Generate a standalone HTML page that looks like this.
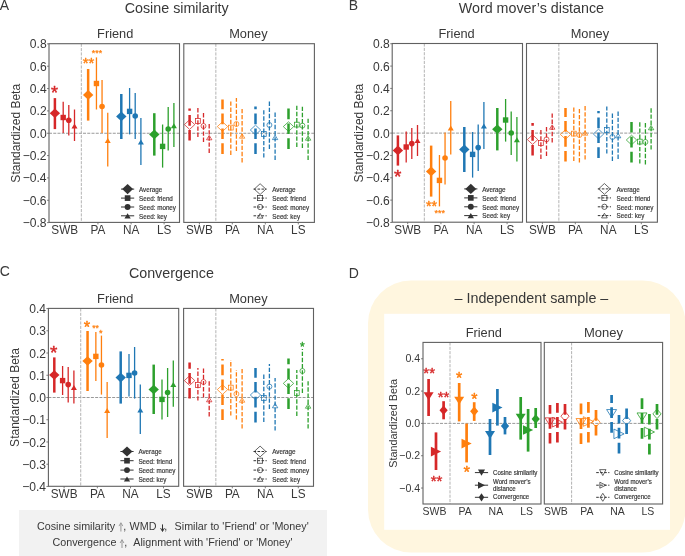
<!DOCTYPE html>
<html><head><meta charset="utf-8"><style>
html,body{margin:0;padding:0;background:#fff;width:685px;height:556px;overflow:hidden;position:relative}
</style></head><body>
<svg width="685" height="556" viewBox="0 0 685 556" style="position:absolute;left:0;top:0;will-change:transform;font-family:'Liberation Sans',sans-serif">
<rect width="685" height="556" fill="#fff"/>
<text transform="translate(-0.3,9.9) scale(1,1.04)" font-size="14" text-anchor="start" fill="#383838" >A</text>
<text transform="translate(348.7,9.85) scale(1,1.04)" font-size="14" text-anchor="start" fill="#383838" >B</text>
<text transform="translate(-0.3,275.6) scale(1,1.04)" font-size="14" text-anchor="start" fill="#383838" >C</text>
<text transform="translate(348.8,277.8) scale(1,1.04)" font-size="14" text-anchor="start" fill="#383838" >D</text>
<text transform="translate(176.7,13.3) scale(1,1.04)" font-size="14.3" text-anchor="middle" fill="#383838" >Cosine similarity</text>
<text transform="translate(115.2,37.6) scale(1,1.04)" font-size="12.8" text-anchor="middle" fill="#383838" >Friend</text>
<text transform="translate(248.4,37.6) scale(1,1.04)" font-size="12.8" text-anchor="middle" fill="#383838" >Money</text>
<text x="0" y="0" font-size="12" text-anchor="middle" fill="#383838" transform="translate(19.8,133.25) rotate(-90)">Standardized Beta</text>
<text transform="translate(46.6,48.44) scale(1,1.04)" font-size="12.1" text-anchor="end" fill="#383838" >0.8</text>
<line x1="47" y1="43.89" x2="49" y2="43.89" stroke="#606060" stroke-width="0.8" />
<text transform="translate(46.6,70.78) scale(1,1.04)" font-size="12.1" text-anchor="end" fill="#383838" >0.6</text>
<line x1="47" y1="66.23" x2="49" y2="66.23" stroke="#606060" stroke-width="0.8" />
<text transform="translate(46.6,93.12) scale(1,1.04)" font-size="12.1" text-anchor="end" fill="#383838" >0.4</text>
<line x1="47" y1="88.57" x2="49" y2="88.57" stroke="#606060" stroke-width="0.8" />
<text transform="translate(46.6,115.46) scale(1,1.04)" font-size="12.1" text-anchor="end" fill="#383838" >0.2</text>
<line x1="47" y1="110.91" x2="49" y2="110.91" stroke="#606060" stroke-width="0.8" />
<text transform="translate(46.6,137.8) scale(1,1.04)" font-size="12.1" text-anchor="end" fill="#383838" >0.0</text>
<line x1="47" y1="133.25" x2="49" y2="133.25" stroke="#606060" stroke-width="0.8" />
<text transform="translate(46.6,160.14) scale(1,1.04)" font-size="12.1" text-anchor="end" fill="#383838" >−0.2</text>
<line x1="47" y1="155.59" x2="49" y2="155.59" stroke="#606060" stroke-width="0.8" />
<text transform="translate(46.6,182.48) scale(1,1.04)" font-size="12.1" text-anchor="end" fill="#383838" >−0.4</text>
<line x1="47" y1="177.93" x2="49" y2="177.93" stroke="#606060" stroke-width="0.8" />
<text transform="translate(46.6,204.82) scale(1,1.04)" font-size="12.1" text-anchor="end" fill="#383838" >−0.6</text>
<line x1="47" y1="200.27" x2="49" y2="200.27" stroke="#606060" stroke-width="0.8" />
<text transform="translate(46.6,227.16) scale(1,1.04)" font-size="12.1" text-anchor="end" fill="#383838" >−0.8</text>
<line x1="47" y1="222.61" x2="49" y2="222.61" stroke="#606060" stroke-width="0.8" />
<line x1="49" y1="133.25" x2="179.5" y2="133.25" stroke="#999999" stroke-width="1" stroke-dasharray="3.0 1.25" />
<line x1="81.33" y1="43.7" x2="81.33" y2="222.4" stroke="#aaaaaa" stroke-width="0.9" stroke-dasharray="3.1 1.25" />
<text transform="translate(64.7,233.7) scale(1,1.04)" font-size="11.8" text-anchor="middle" fill="#383838" >SWB</text>
<line x1="64.7" y1="222.4" x2="64.7" y2="224.4" stroke="#606060" stroke-width="0.8" />
<text transform="translate(97.95,233.7) scale(1,1.04)" font-size="11.8" text-anchor="middle" fill="#383838" >PA</text>
<line x1="97.95" y1="222.4" x2="97.95" y2="224.4" stroke="#606060" stroke-width="0.8" />
<text transform="translate(131.1,233.7) scale(1,1.04)" font-size="11.8" text-anchor="middle" fill="#383838" >NA</text>
<line x1="131.1" y1="222.4" x2="131.1" y2="224.4" stroke="#606060" stroke-width="0.8" />
<text transform="translate(164.1,233.7) scale(1,1.04)" font-size="11.8" text-anchor="middle" fill="#383838" >LS</text>
<line x1="164.1" y1="222.4" x2="164.1" y2="224.4" stroke="#606060" stroke-width="0.8" />
<line x1="183.8" y1="133.25" x2="314.4" y2="133.25" stroke="#999999" stroke-width="1" stroke-dasharray="3.0 1.25" />
<line x1="215.85" y1="43.7" x2="215.85" y2="222.4" stroke="#aaaaaa" stroke-width="0.9" stroke-dasharray="3.1 1.25" />
<text transform="translate(199.4,233.7) scale(1,1.04)" font-size="11.8" text-anchor="middle" fill="#383838" >SWB</text>
<line x1="199.4" y1="222.4" x2="199.4" y2="224.4" stroke="#606060" stroke-width="0.8" />
<text transform="translate(232.3,233.7) scale(1,1.04)" font-size="11.8" text-anchor="middle" fill="#383838" >PA</text>
<line x1="232.3" y1="222.4" x2="232.3" y2="224.4" stroke="#606060" stroke-width="0.8" />
<text transform="translate(265.3,233.7) scale(1,1.04)" font-size="11.8" text-anchor="middle" fill="#383838" >NA</text>
<line x1="265.3" y1="222.4" x2="265.3" y2="224.4" stroke="#606060" stroke-width="0.8" />
<text transform="translate(298.3,233.7) scale(1,1.04)" font-size="11.8" text-anchor="middle" fill="#383838" >LS</text>
<line x1="298.3" y1="222.4" x2="298.3" y2="224.4" stroke="#606060" stroke-width="0.8" />
<path d="M54.9,129.1 L54.9,98.1" stroke="#d62728" stroke-width="2.5" fill="none"/>
<path d="M54.9,108.4 L60.1,113.2 L54.9,118 L49.7,113.2Z" fill="#d62728" stroke="none"/>
<path d="M63.2,133 L63.2,101.7" stroke="#d62728" stroke-width="1.3" fill="none"/>
<rect x="60.5" y="114.8" width="5.4" height="5.4" fill="#d62728" stroke="none"/>
<path d="M68.8,135.6 L68.8,105" stroke="#d62728" stroke-width="1.3" fill="none"/>
<ellipse cx="68.8" cy="120.3" rx="2.8" ry="2.8" fill="#d62728" stroke="none"/>
<path d="M74.5,141 L74.5,109.5" stroke="#d62728" stroke-width="1.3" fill="none"/>
<path d="M74.5,123.5 L77.5,128.5 L71.5,128.5Z" fill="#d62728" stroke="none"/>
<path d="M88.15,120.6 L88.15,69" stroke="#ff7f0e" stroke-width="2.5" fill="none"/>
<path d="M88.15,90.1 L93.35,94.9 L88.15,99.7 L82.95,94.9Z" fill="#ff7f0e" stroke="none"/>
<path d="M96.45,109.5 L96.45,57.4" stroke="#ff7f0e" stroke-width="1.3" fill="none"/>
<rect x="93.75" y="80.8" width="5.4" height="5.4" fill="#ff7f0e" stroke="none"/>
<path d="M102.05,133 L102.05,80" stroke="#ff7f0e" stroke-width="1.3" fill="none"/>
<ellipse cx="102.05" cy="106.5" rx="2.8" ry="2.8" fill="#ff7f0e" stroke="none"/>
<path d="M107.75,166.6 L107.75,112.7" stroke="#ff7f0e" stroke-width="1.3" fill="none"/>
<path d="M107.75,137.9 L110.75,142.9 L104.75,142.9Z" fill="#ff7f0e" stroke="none"/>
<path d="M121.3,139 L121.3,94" stroke="#1f77b4" stroke-width="2.5" fill="none"/>
<path d="M121.3,111.6 L126.5,116.4 L121.3,121.2 L116.1,116.4Z" fill="#1f77b4" stroke="none"/>
<path d="M129.6,134.4 L129.6,88" stroke="#1f77b4" stroke-width="1.3" fill="none"/>
<rect x="126.9" y="108.7" width="5.4" height="5.4" fill="#1f77b4" stroke="none"/>
<path d="M135.2,139 L135.2,93" stroke="#1f77b4" stroke-width="1.3" fill="none"/>
<ellipse cx="135.2" cy="116" rx="2.8" ry="2.8" fill="#1f77b4" stroke="none"/>
<path d="M140.9,165 L140.9,118" stroke="#1f77b4" stroke-width="1.3" fill="none"/>
<path d="M140.9,139.5 L143.9,144.5 L137.9,144.5Z" fill="#1f77b4" stroke="none"/>
<path d="M154.3,155.6 L154.3,113.2" stroke="#2ca02c" stroke-width="2.5" fill="none"/>
<path d="M154.3,129.6 L159.5,134.4 L154.3,139.2 L149.1,134.4Z" fill="#2ca02c" stroke="none"/>
<path d="M162.6,167.6 L162.6,124.5" stroke="#2ca02c" stroke-width="1.3" fill="none"/>
<rect x="159.9" y="143.7" width="5.4" height="5.4" fill="#2ca02c" stroke="none"/>
<path d="M168.2,150.6 L168.2,107" stroke="#2ca02c" stroke-width="1.3" fill="none"/>
<ellipse cx="168.2" cy="129" rx="2.8" ry="2.8" fill="#2ca02c" stroke="none"/>
<path d="M173.9,147 L173.9,103" stroke="#2ca02c" stroke-width="1.3" fill="none"/>
<path d="M173.9,123.3 L176.9,128.3 L170.9,128.3Z" fill="#2ca02c" stroke="none"/>
<path d="M189.6,140.6 L189.6,108.6" stroke="#d62728" stroke-width="2.5" fill="none" stroke-dasharray="10.7 4.2"/>
<path d="M189.6,119.8 L194.8,124.6 L189.6,129.4 L184.4,124.6Z" fill="none" stroke="#d62728" stroke-width="0.75"/>
<path d="M197.9,137 L197.9,107" stroke="#d62728" stroke-width="1.3" fill="none" stroke-dasharray="4.4 1.75"/>
<rect x="195.5" y="118.6" width="4.8" height="4.8" fill="none" stroke="#d62728" stroke-width="0.75"/>
<path d="M203.5,142 L203.5,112" stroke="#d62728" stroke-width="1.3" fill="none" stroke-dasharray="4.4 1.75"/>
<ellipse cx="203.5" cy="126" rx="2.5" ry="2.5" fill="none" stroke="#d62728" stroke-width="0.75"/>
<path d="M209.2,153 L209.2,123" stroke="#d62728" stroke-width="1.3" fill="none" stroke-dasharray="4.4 1.75"/>
<path d="M209.2,135.4 L211.9,139.8 L206.5,139.8Z" fill="none" stroke="#d62728" stroke-width="0.75"/>
<path d="M222.5,154 L222.5,99.6" stroke="#ff7f0e" stroke-width="2.5" fill="none" stroke-dasharray="10.7 4.2"/>
<path d="M222.5,121.8 L227.7,126.6 L222.5,131.4 L217.3,126.6Z" fill="none" stroke="#ff7f0e" stroke-width="0.75"/>
<path d="M230.8,155 L230.8,101" stroke="#ff7f0e" stroke-width="1.3" fill="none" stroke-dasharray="4.4 1.75"/>
<rect x="228.4" y="125.2" width="4.8" height="4.8" fill="none" stroke="#ff7f0e" stroke-width="0.75"/>
<path d="M236.4,151 L236.4,98" stroke="#ff7f0e" stroke-width="1.3" fill="none" stroke-dasharray="4.4 1.75"/>
<ellipse cx="236.4" cy="124" rx="2.5" ry="2.5" fill="none" stroke="#ff7f0e" stroke-width="0.75"/>
<path d="M242.1,162.4 L242.1,109" stroke="#ff7f0e" stroke-width="1.3" fill="none" stroke-dasharray="4.4 1.75"/>
<path d="M242.1,133.8 L244.8,138.2 L239.4,138.2Z" fill="none" stroke="#ff7f0e" stroke-width="0.75"/>
<path d="M255.5,154 L255.5,106.4" stroke="#1f77b4" stroke-width="2.5" fill="none" stroke-dasharray="10.7 4.2"/>
<path d="M255.5,125.2 L260.7,130 L255.5,134.8 L250.3,130Z" fill="none" stroke="#1f77b4" stroke-width="0.75"/>
<path d="M263.8,157.6 L263.8,110" stroke="#1f77b4" stroke-width="1.3" fill="none" stroke-dasharray="4.4 1.75"/>
<rect x="261.4" y="131.6" width="4.8" height="4.8" fill="none" stroke="#1f77b4" stroke-width="0.75"/>
<path d="M269.4,149 L269.4,101" stroke="#1f77b4" stroke-width="1.3" fill="none" stroke-dasharray="4.4 1.75"/>
<ellipse cx="269.4" cy="125" rx="2.5" ry="2.5" fill="none" stroke="#1f77b4" stroke-width="0.75"/>
<path d="M275.1,160 L275.1,112" stroke="#1f77b4" stroke-width="1.3" fill="none" stroke-dasharray="4.4 1.75"/>
<path d="M275.1,135.2 L277.8,139.6 L272.4,139.6Z" fill="none" stroke="#1f77b4" stroke-width="0.75"/>
<path d="M288.5,149 L288.5,108.6" stroke="#2ca02c" stroke-width="2.5" fill="none" stroke-dasharray="10.7 4.2"/>
<path d="M288.5,121.8 L293.7,126.6 L288.5,131.4 L283.3,126.6Z" fill="none" stroke="#2ca02c" stroke-width="0.75"/>
<path d="M296.8,147 L296.8,104" stroke="#2ca02c" stroke-width="1.3" fill="none" stroke-dasharray="4.4 1.75"/>
<rect x="294.4" y="122.2" width="4.8" height="4.8" fill="none" stroke="#2ca02c" stroke-width="0.75"/>
<path d="M302.4,148 L302.4,105" stroke="#2ca02c" stroke-width="1.3" fill="none" stroke-dasharray="4.4 1.75"/>
<ellipse cx="302.4" cy="125.6" rx="2.5" ry="2.5" fill="none" stroke="#2ca02c" stroke-width="0.75"/>
<path d="M308.1,160 L308.1,117" stroke="#2ca02c" stroke-width="1.3" fill="none" stroke-dasharray="4.4 1.75"/>
<path d="M308.1,135.8 L310.8,140.2 L305.4,140.2Z" fill="none" stroke="#2ca02c" stroke-width="0.75"/>
<text x="54.55" y="99.46" font-size="18" text-anchor="middle" fill="#d62728" stroke="#d62728" stroke-width="0.45" stroke-linejoin="round">*</text>
<text x="88.5" y="68.4" font-size="14.8" text-anchor="middle" fill="#ff7f0e" stroke="#ff7f0e" stroke-width="0.41" stroke-linejoin="round">**</text>
<text x="97" y="56.08" font-size="8.8" text-anchor="middle" fill="#ff7f0e" stroke="#ff7f0e" stroke-width="0.25" stroke-linejoin="round">***</text>
<rect x="49" y="43.7" width="130.5" height="178.7" fill="none" stroke="#606060" stroke-width="1.1"/>
<rect x="183.8" y="43.7" width="130.6" height="178.7" fill="none" stroke="#606060" stroke-width="1.1"/>
<line x1="121" y1="189.1" x2="134.2" y2="189.1" stroke="#333333" stroke-width="1" />
<path d="M127.6,184.06 L133.06,189.1 L127.6,194.14 L122.14,189.1Z" fill="#333333" stroke="none"/>
<text transform="translate(139,191.95) scale(1,1.04)" font-size="6.3" text-anchor="start" fill="#383838" stroke="#383838" stroke-width="0.18">Average</text>
<line x1="121" y1="198.1" x2="134.2" y2="198.1" stroke="#333333" stroke-width="1" />
<rect x="124.77" y="195.26" width="5.67" height="5.67" fill="#333333" stroke="none"/>
<text transform="translate(139,200.95) scale(1,1.04)" font-size="6.3" text-anchor="start" fill="#383838" stroke="#383838" stroke-width="0.18">Seed: friend</text>
<line x1="121" y1="207" x2="134.2" y2="207" stroke="#333333" stroke-width="1" />
<ellipse cx="127.6" cy="207" rx="2.94" ry="2.94" fill="#333333" stroke="none"/>
<text transform="translate(139,209.85) scale(1,1.04)" font-size="6.3" text-anchor="start" fill="#383838" stroke="#383838" stroke-width="0.18">Seed: money</text>
<line x1="121" y1="215.8" x2="134.2" y2="215.8" stroke="#333333" stroke-width="1" />
<path d="M127.6,213.18 L130.75,218.43 L124.45,218.43Z" fill="#333333" stroke="none"/>
<text transform="translate(139,218.65) scale(1,1.04)" font-size="6.3" text-anchor="start" fill="#383838" stroke="#383838" stroke-width="0.18">Seed: key</text>
<line x1="253.5" y1="189.1" x2="266.7" y2="189.1" stroke="#333333" stroke-width="1" stroke-dasharray="2.6 1.4" />
<path d="M260.1,183.72 L265.92,189.1 L260.1,194.48 L254.28,189.1Z" fill="none" stroke="#333333" stroke-width="0.75"/>
<text transform="translate(272.2,191.95) scale(1,1.04)" font-size="6.3" text-anchor="start" fill="#383838" stroke="#383838" stroke-width="0.18">Average</text>
<line x1="253.5" y1="198.1" x2="266.7" y2="198.1" stroke="#333333" stroke-width="1" stroke-dasharray="2.6 1.4" />
<rect x="257.56" y="195.56" width="5.07" height="5.07" fill="none" stroke="#333333" stroke-width="0.75"/>
<text transform="translate(272.2,200.95) scale(1,1.04)" font-size="6.3" text-anchor="start" fill="#383838" stroke="#383838" stroke-width="0.18">Seed: friend</text>
<line x1="253.5" y1="207" x2="266.7" y2="207" stroke="#333333" stroke-width="1" stroke-dasharray="2.6 1.4" />
<ellipse cx="260.1" cy="207" rx="2.64" ry="2.64" fill="none" stroke="#333333" stroke-width="0.75"/>
<text transform="translate(272.2,209.85) scale(1,1.04)" font-size="6.3" text-anchor="start" fill="#383838" stroke="#383838" stroke-width="0.18">Seed: money</text>
<line x1="253.5" y1="215.8" x2="266.7" y2="215.8" stroke="#333333" stroke-width="1" stroke-dasharray="2.6 1.4" />
<path d="M260.1,213.48 L262.95,218.12 L257.25,218.12Z" fill="none" stroke="#333333" stroke-width="0.75"/>
<text transform="translate(272.2,218.65) scale(1,1.04)" font-size="6.3" text-anchor="start" fill="#383838" stroke="#383838" stroke-width="0.18">Seed: key</text>
<text transform="translate(531.4,13.3) scale(1,1.04)" font-size="14.3" text-anchor="middle" fill="#383838" >Word mover’s distance</text>
<text transform="translate(456.6,37.6) scale(1,1.04)" font-size="12.8" text-anchor="middle" fill="#383838" >Friend</text>
<text transform="translate(589.9,37.6) scale(1,1.04)" font-size="12.8" text-anchor="middle" fill="#383838" >Money</text>
<text x="0" y="0" font-size="12" text-anchor="middle" fill="#383838" transform="translate(362.8,133.1) rotate(-90)">Standardized Beta</text>
<text transform="translate(389.8,48.29) scale(1,1.04)" font-size="12.1" text-anchor="end" fill="#383838" >0.8</text>
<line x1="390.2" y1="43.74" x2="392.2" y2="43.74" stroke="#606060" stroke-width="0.8" />
<text transform="translate(389.8,70.63) scale(1,1.04)" font-size="12.1" text-anchor="end" fill="#383838" >0.6</text>
<line x1="390.2" y1="66.08" x2="392.2" y2="66.08" stroke="#606060" stroke-width="0.8" />
<text transform="translate(389.8,92.97) scale(1,1.04)" font-size="12.1" text-anchor="end" fill="#383838" >0.4</text>
<line x1="390.2" y1="88.42" x2="392.2" y2="88.42" stroke="#606060" stroke-width="0.8" />
<text transform="translate(389.8,115.31) scale(1,1.04)" font-size="12.1" text-anchor="end" fill="#383838" >0.2</text>
<line x1="390.2" y1="110.76" x2="392.2" y2="110.76" stroke="#606060" stroke-width="0.8" />
<text transform="translate(389.8,137.65) scale(1,1.04)" font-size="12.1" text-anchor="end" fill="#383838" >0.0</text>
<line x1="390.2" y1="133.1" x2="392.2" y2="133.1" stroke="#606060" stroke-width="0.8" />
<text transform="translate(389.8,159.99) scale(1,1.04)" font-size="12.1" text-anchor="end" fill="#383838" >−0.2</text>
<line x1="390.2" y1="155.44" x2="392.2" y2="155.44" stroke="#606060" stroke-width="0.8" />
<text transform="translate(389.8,182.33) scale(1,1.04)" font-size="12.1" text-anchor="end" fill="#383838" >−0.4</text>
<line x1="390.2" y1="177.78" x2="392.2" y2="177.78" stroke="#606060" stroke-width="0.8" />
<text transform="translate(389.8,204.67) scale(1,1.04)" font-size="12.1" text-anchor="end" fill="#383838" >−0.6</text>
<line x1="390.2" y1="200.12" x2="392.2" y2="200.12" stroke="#606060" stroke-width="0.8" />
<text transform="translate(389.8,227.01) scale(1,1.04)" font-size="12.1" text-anchor="end" fill="#383838" >−0.8</text>
<line x1="390.2" y1="222.46" x2="392.2" y2="222.46" stroke="#606060" stroke-width="0.8" />
<line x1="392.2" y1="133.1" x2="522.5" y2="133.1" stroke="#999999" stroke-width="1" stroke-dasharray="3.0 1.25" />
<line x1="424.32" y1="43.5" x2="424.32" y2="222.2" stroke="#aaaaaa" stroke-width="0.9" stroke-dasharray="3.1 1.25" />
<text transform="translate(407.7,233.5) scale(1,1.04)" font-size="11.8" text-anchor="middle" fill="#383838" >SWB</text>
<line x1="407.7" y1="222.2" x2="407.7" y2="224.2" stroke="#606060" stroke-width="0.8" />
<text transform="translate(440.95,233.5) scale(1,1.04)" font-size="11.8" text-anchor="middle" fill="#383838" >PA</text>
<line x1="440.95" y1="222.2" x2="440.95" y2="224.2" stroke="#606060" stroke-width="0.8" />
<text transform="translate(474.1,233.5) scale(1,1.04)" font-size="11.8" text-anchor="middle" fill="#383838" >NA</text>
<line x1="474.1" y1="222.2" x2="474.1" y2="224.2" stroke="#606060" stroke-width="0.8" />
<text transform="translate(507.1,233.5) scale(1,1.04)" font-size="11.8" text-anchor="middle" fill="#383838" >LS</text>
<line x1="507.1" y1="222.2" x2="507.1" y2="224.2" stroke="#606060" stroke-width="0.8" />
<line x1="526.5" y1="133.1" x2="657.4" y2="133.1" stroke="#999999" stroke-width="1" stroke-dasharray="3.0 1.25" />
<line x1="558.85" y1="43.5" x2="558.85" y2="222.2" stroke="#aaaaaa" stroke-width="0.9" stroke-dasharray="3.1 1.25" />
<text transform="translate(542.4,233.5) scale(1,1.04)" font-size="11.8" text-anchor="middle" fill="#383838" >SWB</text>
<line x1="542.4" y1="222.2" x2="542.4" y2="224.2" stroke="#606060" stroke-width="0.8" />
<text transform="translate(575.3,233.5) scale(1,1.04)" font-size="11.8" text-anchor="middle" fill="#383838" >PA</text>
<line x1="575.3" y1="222.2" x2="575.3" y2="224.2" stroke="#606060" stroke-width="0.8" />
<text transform="translate(608.3,233.5) scale(1,1.04)" font-size="11.8" text-anchor="middle" fill="#383838" >NA</text>
<line x1="608.3" y1="222.2" x2="608.3" y2="224.2" stroke="#606060" stroke-width="0.8" />
<text transform="translate(641.3,233.5) scale(1,1.04)" font-size="11.8" text-anchor="middle" fill="#383838" >LS</text>
<line x1="641.3" y1="222.2" x2="641.3" y2="224.2" stroke="#606060" stroke-width="0.8" />
<path d="M397.9,165.6 L397.9,135.4" stroke="#d62728" stroke-width="2.5" fill="none"/>
<path d="M397.9,145.6 L403.1,150.4 L397.9,155.2 L392.7,150.4Z" fill="#d62728" stroke="none"/>
<path d="M406.2,162.6 L406.2,131.6" stroke="#d62728" stroke-width="1.3" fill="none"/>
<rect x="403.5" y="144.3" width="5.4" height="5.4" fill="#d62728" stroke="none"/>
<path d="M411.8,159 L411.8,128" stroke="#d62728" stroke-width="1.3" fill="none"/>
<ellipse cx="411.8" cy="143.6" rx="2.8" ry="2.8" fill="#d62728" stroke="none"/>
<path d="M417.5,156 L417.5,125" stroke="#d62728" stroke-width="1.3" fill="none"/>
<path d="M417.5,138.1 L420.5,143.1 L414.5,143.1Z" fill="#d62728" stroke="none"/>
<path d="M431.15,196.6 L431.15,145.6" stroke="#ff7f0e" stroke-width="2.5" fill="none"/>
<path d="M431.15,166.6 L436.35,171.4 L431.15,176.2 L425.95,171.4Z" fill="#ff7f0e" stroke="none"/>
<path d="M439.45,206.4 L439.45,155" stroke="#ff7f0e" stroke-width="1.3" fill="none"/>
<rect x="436.75" y="177.7" width="5.4" height="5.4" fill="#ff7f0e" stroke="none"/>
<path d="M445.05,184.4 L445.05,132.4" stroke="#ff7f0e" stroke-width="1.3" fill="none"/>
<ellipse cx="445.05" cy="158" rx="2.8" ry="2.8" fill="#ff7f0e" stroke="none"/>
<path d="M450.75,154.4 L450.75,101" stroke="#ff7f0e" stroke-width="1.3" fill="none"/>
<path d="M450.75,125.5 L453.75,130.5 L447.75,130.5Z" fill="#ff7f0e" stroke="none"/>
<path d="M464.3,172 L464.3,127" stroke="#1f77b4" stroke-width="2.5" fill="none"/>
<path d="M464.3,144.6 L469.5,149.4 L464.3,154.2 L459.1,149.4Z" fill="#1f77b4" stroke="none"/>
<path d="M472.6,177.6 L472.6,132" stroke="#1f77b4" stroke-width="1.3" fill="none"/>
<rect x="469.9" y="151.7" width="5.4" height="5.4" fill="#1f77b4" stroke="none"/>
<path d="M478.2,171 L478.2,124.6" stroke="#1f77b4" stroke-width="1.3" fill="none"/>
<ellipse cx="478.2" cy="147.6" rx="2.8" ry="2.8" fill="#1f77b4" stroke="none"/>
<path d="M483.9,149 L483.9,102" stroke="#1f77b4" stroke-width="1.3" fill="none"/>
<path d="M483.9,123.5 L486.9,128.5 L480.9,128.5Z" fill="#1f77b4" stroke="none"/>
<path d="M497.3,150.4 L497.3,108" stroke="#2ca02c" stroke-width="2.5" fill="none"/>
<path d="M497.3,124.4 L502.5,129.2 L497.3,134 L492.1,129.2Z" fill="#2ca02c" stroke="none"/>
<path d="M505.6,141.6 L505.6,99" stroke="#2ca02c" stroke-width="1.3" fill="none"/>
<rect x="502.9" y="117.3" width="5.4" height="5.4" fill="#2ca02c" stroke="none"/>
<path d="M511.2,155 L511.2,111.6" stroke="#2ca02c" stroke-width="1.3" fill="none"/>
<ellipse cx="511.2" cy="133" rx="2.8" ry="2.8" fill="#2ca02c" stroke="none"/>
<path d="M516.9,161.6 L516.9,117" stroke="#2ca02c" stroke-width="1.3" fill="none"/>
<path d="M516.9,137.3 L519.9,142.3 L513.9,142.3Z" fill="#2ca02c" stroke="none"/>
<path d="M532.6,155.6 L532.6,123" stroke="#d62728" stroke-width="2.5" fill="none" stroke-dasharray="10.7 4.2"/>
<path d="M532.6,134.8 L537.8,139.6 L532.6,144.4 L527.4,139.6Z" fill="none" stroke="#d62728" stroke-width="0.75"/>
<path d="M540.9,159 L540.9,129" stroke="#d62728" stroke-width="1.3" fill="none" stroke-dasharray="4.4 1.75"/>
<rect x="538.5" y="140.6" width="4.8" height="4.8" fill="none" stroke="#d62728" stroke-width="0.75"/>
<path d="M546.5,156 L546.5,125.6" stroke="#d62728" stroke-width="1.3" fill="none" stroke-dasharray="4.4 1.75"/>
<ellipse cx="546.5" cy="139.4" rx="2.5" ry="2.5" fill="none" stroke="#d62728" stroke-width="0.75"/>
<path d="M552.2,142.4 L552.2,112" stroke="#d62728" stroke-width="1.3" fill="none" stroke-dasharray="4.4 1.75"/>
<path d="M552.2,124.8 L554.9,129.2 L549.5,129.2Z" fill="none" stroke="#d62728" stroke-width="0.75"/>
<path d="M565.5,161.6 L565.5,108" stroke="#ff7f0e" stroke-width="2.5" fill="none" stroke-dasharray="10.7 4.2"/>
<path d="M565.5,129.6 L570.7,134.4 L565.5,139.2 L560.3,134.4Z" fill="none" stroke="#ff7f0e" stroke-width="0.75"/>
<path d="M573.8,161 L573.8,107" stroke="#ff7f0e" stroke-width="1.3" fill="none" stroke-dasharray="4.4 1.75"/>
<rect x="571.4" y="131.2" width="4.8" height="4.8" fill="none" stroke="#ff7f0e" stroke-width="0.75"/>
<path d="M579.4,162.4 L579.4,109" stroke="#ff7f0e" stroke-width="1.3" fill="none" stroke-dasharray="4.4 1.75"/>
<ellipse cx="579.4" cy="135" rx="2.5" ry="2.5" fill="none" stroke="#ff7f0e" stroke-width="0.75"/>
<path d="M585.1,159.6 L585.1,106" stroke="#ff7f0e" stroke-width="1.3" fill="none" stroke-dasharray="4.4 1.75"/>
<path d="M585.1,130.8 L587.8,135.2 L582.4,135.2Z" fill="none" stroke="#ff7f0e" stroke-width="0.75"/>
<path d="M598.5,158 L598.5,111" stroke="#1f77b4" stroke-width="2.5" fill="none" stroke-dasharray="10.7 4.2"/>
<path d="M598.5,129.2 L603.7,134 L598.5,138.8 L593.3,134Z" fill="none" stroke="#1f77b4" stroke-width="0.75"/>
<path d="M606.8,153.6 L606.8,106.4" stroke="#1f77b4" stroke-width="1.3" fill="none" stroke-dasharray="4.4 1.75"/>
<rect x="604.4" y="127.6" width="4.8" height="4.8" fill="none" stroke="#1f77b4" stroke-width="0.75"/>
<path d="M612.4,161 L612.4,113" stroke="#1f77b4" stroke-width="1.3" fill="none" stroke-dasharray="4.4 1.75"/>
<ellipse cx="612.4" cy="137" rx="2.5" ry="2.5" fill="none" stroke="#1f77b4" stroke-width="0.75"/>
<path d="M618.1,159 L618.1,111" stroke="#1f77b4" stroke-width="1.3" fill="none" stroke-dasharray="4.4 1.75"/>
<path d="M618.1,133.4 L620.8,137.8 L615.4,137.8Z" fill="none" stroke="#1f77b4" stroke-width="0.75"/>
<path d="M631.5,162.4 L631.5,122" stroke="#2ca02c" stroke-width="2.5" fill="none" stroke-dasharray="10.7 4.2"/>
<path d="M631.5,135.2 L636.7,140 L631.5,144.8 L626.3,140Z" fill="none" stroke="#2ca02c" stroke-width="0.75"/>
<path d="M639.8,163.6 L639.8,121" stroke="#2ca02c" stroke-width="1.3" fill="none" stroke-dasharray="4.4 1.75"/>
<rect x="637.4" y="139.2" width="4.8" height="4.8" fill="none" stroke="#2ca02c" stroke-width="0.75"/>
<path d="M645.4,164.4 L645.4,122" stroke="#2ca02c" stroke-width="1.3" fill="none" stroke-dasharray="4.4 1.75"/>
<ellipse cx="645.4" cy="142" rx="2.5" ry="2.5" fill="none" stroke="#2ca02c" stroke-width="0.75"/>
<path d="M651.1,149.6 L651.1,107" stroke="#2ca02c" stroke-width="1.3" fill="none" stroke-dasharray="4.4 1.75"/>
<path d="M651.1,125.4 L653.8,129.8 L648.4,129.8Z" fill="none" stroke="#2ca02c" stroke-width="0.75"/>
<text x="397.8" y="182.78" font-size="19" text-anchor="middle" fill="#d62728" stroke="#d62728" stroke-width="0.45" stroke-linejoin="round">*</text>
<text x="431.5" y="210.88" font-size="14.2" text-anchor="middle" fill="#ff7f0e" stroke="#ff7f0e" stroke-width="0.4" stroke-linejoin="round">**</text>
<text x="439.7" y="216.33" font-size="8.9" text-anchor="middle" fill="#ff7f0e" stroke="#ff7f0e" stroke-width="0.25" stroke-linejoin="round">***</text>
<rect x="392.2" y="43.5" width="130.3" height="178.7" fill="none" stroke="#606060" stroke-width="1.1"/>
<rect x="526.5" y="43.5" width="130.9" height="178.7" fill="none" stroke="#606060" stroke-width="1.1"/>
<line x1="464.2" y1="188.9" x2="477.4" y2="188.9" stroke="#333333" stroke-width="1" />
<path d="M470.8,183.86 L476.26,188.9 L470.8,193.94 L465.34,188.9Z" fill="#333333" stroke="none"/>
<text transform="translate(482.2,191.75) scale(1,1.04)" font-size="6.3" text-anchor="start" fill="#383838" stroke="#383838" stroke-width="0.18">Average</text>
<line x1="464.2" y1="197.9" x2="477.4" y2="197.9" stroke="#333333" stroke-width="1" />
<rect x="467.96" y="195.06" width="5.67" height="5.67" fill="#333333" stroke="none"/>
<text transform="translate(482.2,200.75) scale(1,1.04)" font-size="6.3" text-anchor="start" fill="#383838" stroke="#383838" stroke-width="0.18">Seed: friend</text>
<line x1="464.2" y1="206.8" x2="477.4" y2="206.8" stroke="#333333" stroke-width="1" />
<ellipse cx="470.8" cy="206.8" rx="2.94" ry="2.94" fill="#333333" stroke="none"/>
<text transform="translate(482.2,209.65) scale(1,1.04)" font-size="6.3" text-anchor="start" fill="#383838" stroke="#383838" stroke-width="0.18">Seed: money</text>
<line x1="464.2" y1="215.6" x2="477.4" y2="215.6" stroke="#333333" stroke-width="1" />
<path d="M470.8,212.97 L473.95,218.22 L467.65,218.22Z" fill="#333333" stroke="none"/>
<text transform="translate(482.2,218.45) scale(1,1.04)" font-size="6.3" text-anchor="start" fill="#383838" stroke="#383838" stroke-width="0.18">Seed: key</text>
<line x1="597.8" y1="188.9" x2="611" y2="188.9" stroke="#333333" stroke-width="1" stroke-dasharray="2.6 1.4" />
<path d="M604.4,183.52 L610.22,188.9 L604.4,194.28 L598.58,188.9Z" fill="none" stroke="#333333" stroke-width="0.75"/>
<text transform="translate(616.5,191.75) scale(1,1.04)" font-size="6.3" text-anchor="start" fill="#383838" stroke="#383838" stroke-width="0.18">Average</text>
<line x1="597.8" y1="197.9" x2="611" y2="197.9" stroke="#333333" stroke-width="1" stroke-dasharray="2.6 1.4" />
<rect x="601.87" y="195.36" width="5.07" height="5.07" fill="none" stroke="#333333" stroke-width="0.75"/>
<text transform="translate(616.5,200.75) scale(1,1.04)" font-size="6.3" text-anchor="start" fill="#383838" stroke="#383838" stroke-width="0.18">Seed: friend</text>
<line x1="597.8" y1="206.8" x2="611" y2="206.8" stroke="#333333" stroke-width="1" stroke-dasharray="2.6 1.4" />
<ellipse cx="604.4" cy="206.8" rx="2.64" ry="2.64" fill="none" stroke="#333333" stroke-width="0.75"/>
<text transform="translate(616.5,209.65) scale(1,1.04)" font-size="6.3" text-anchor="start" fill="#383838" stroke="#383838" stroke-width="0.18">Seed: money</text>
<line x1="597.8" y1="215.6" x2="611" y2="215.6" stroke="#333333" stroke-width="1" stroke-dasharray="2.6 1.4" />
<path d="M604.4,213.28 L607.25,217.92 L601.55,217.92Z" fill="none" stroke="#333333" stroke-width="0.75"/>
<text transform="translate(616.5,218.45) scale(1,1.04)" font-size="6.3" text-anchor="start" fill="#383838" stroke="#383838" stroke-width="0.18">Seed: key</text>
<text transform="translate(171.4,278.3) scale(1,1.04)" font-size="14.3" text-anchor="middle" fill="#383838" >Convergence</text>
<text transform="translate(115.2,302.5) scale(1,1.04)" font-size="12.8" text-anchor="middle" fill="#383838" >Friend</text>
<text transform="translate(248.4,302.5) scale(1,1.04)" font-size="12.8" text-anchor="middle" fill="#383838" >Money</text>
<text x="0" y="0" font-size="12" text-anchor="middle" fill="#383838" transform="translate(19.4,397.5) rotate(-90)">Standardized Beta</text>
<text transform="translate(46,313.09) scale(1,1.04)" font-size="12.1" text-anchor="end" fill="#383838" >0.4</text>
<line x1="46.4" y1="308.54" x2="48.4" y2="308.54" stroke="#606060" stroke-width="0.8" />
<text transform="translate(46,335.33) scale(1,1.04)" font-size="12.1" text-anchor="end" fill="#383838" >0.3</text>
<line x1="46.4" y1="330.78" x2="48.4" y2="330.78" stroke="#606060" stroke-width="0.8" />
<text transform="translate(46,357.57) scale(1,1.04)" font-size="12.1" text-anchor="end" fill="#383838" >0.2</text>
<line x1="46.4" y1="353.02" x2="48.4" y2="353.02" stroke="#606060" stroke-width="0.8" />
<text transform="translate(46,379.81) scale(1,1.04)" font-size="12.1" text-anchor="end" fill="#383838" >0.1</text>
<line x1="46.4" y1="375.26" x2="48.4" y2="375.26" stroke="#606060" stroke-width="0.8" />
<text transform="translate(46,402.05) scale(1,1.04)" font-size="12.1" text-anchor="end" fill="#383838" >0.0</text>
<line x1="46.4" y1="397.5" x2="48.4" y2="397.5" stroke="#606060" stroke-width="0.8" />
<text transform="translate(46,424.29) scale(1,1.04)" font-size="12.1" text-anchor="end" fill="#383838" >−0.1</text>
<line x1="46.4" y1="419.74" x2="48.4" y2="419.74" stroke="#606060" stroke-width="0.8" />
<text transform="translate(46,446.53) scale(1,1.04)" font-size="12.1" text-anchor="end" fill="#383838" >−0.2</text>
<line x1="46.4" y1="441.98" x2="48.4" y2="441.98" stroke="#606060" stroke-width="0.8" />
<text transform="translate(46,468.77) scale(1,1.04)" font-size="12.1" text-anchor="end" fill="#383838" >−0.3</text>
<line x1="46.4" y1="464.22" x2="48.4" y2="464.22" stroke="#606060" stroke-width="0.8" />
<text transform="translate(46,491.01) scale(1,1.04)" font-size="12.1" text-anchor="end" fill="#383838" >−0.4</text>
<line x1="46.4" y1="486.46" x2="48.4" y2="486.46" stroke="#606060" stroke-width="0.8" />
<line x1="48.4" y1="397.5" x2="178.7" y2="397.5" stroke="#999999" stroke-width="1" stroke-dasharray="3.0 1.25" />
<line x1="80.73" y1="308.4" x2="80.73" y2="486.3" stroke="#aaaaaa" stroke-width="0.9" stroke-dasharray="3.1 1.25" />
<text transform="translate(64.1,497.6) scale(1,1.04)" font-size="11.8" text-anchor="middle" fill="#383838" >SWB</text>
<line x1="64.1" y1="486.3" x2="64.1" y2="488.3" stroke="#606060" stroke-width="0.8" />
<text transform="translate(97.35,497.6) scale(1,1.04)" font-size="11.8" text-anchor="middle" fill="#383838" >PA</text>
<line x1="97.35" y1="486.3" x2="97.35" y2="488.3" stroke="#606060" stroke-width="0.8" />
<text transform="translate(130.5,497.6) scale(1,1.04)" font-size="11.8" text-anchor="middle" fill="#383838" >NA</text>
<line x1="130.5" y1="486.3" x2="130.5" y2="488.3" stroke="#606060" stroke-width="0.8" />
<text transform="translate(163.5,497.6) scale(1,1.04)" font-size="11.8" text-anchor="middle" fill="#383838" >LS</text>
<line x1="163.5" y1="486.3" x2="163.5" y2="488.3" stroke="#606060" stroke-width="0.8" />
<line x1="183.6" y1="397.5" x2="313.5" y2="397.5" stroke="#999999" stroke-width="1" stroke-dasharray="3.0 1.25" />
<line x1="215.85" y1="308.4" x2="215.85" y2="486.3" stroke="#aaaaaa" stroke-width="0.9" stroke-dasharray="3.1 1.25" />
<text transform="translate(199.4,497.6) scale(1,1.04)" font-size="11.8" text-anchor="middle" fill="#383838" >SWB</text>
<line x1="199.4" y1="486.3" x2="199.4" y2="488.3" stroke="#606060" stroke-width="0.8" />
<text transform="translate(232.3,497.6) scale(1,1.04)" font-size="11.8" text-anchor="middle" fill="#383838" >PA</text>
<line x1="232.3" y1="486.3" x2="232.3" y2="488.3" stroke="#606060" stroke-width="0.8" />
<text transform="translate(265.3,497.6) scale(1,1.04)" font-size="11.8" text-anchor="middle" fill="#383838" >NA</text>
<line x1="265.3" y1="486.3" x2="265.3" y2="488.3" stroke="#606060" stroke-width="0.8" />
<text transform="translate(298.3,497.6) scale(1,1.04)" font-size="11.8" text-anchor="middle" fill="#383838" >LS</text>
<line x1="298.3" y1="486.3" x2="298.3" y2="488.3" stroke="#606060" stroke-width="0.8" />
<path d="M54.3,392.6 L54.3,357.4" stroke="#d62728" stroke-width="2.5" fill="none"/>
<path d="M54.3,370.2 L59.5,375 L54.3,379.8 L49.1,375Z" fill="#d62728" stroke="none"/>
<path d="M62.6,395 L62.6,366" stroke="#d62728" stroke-width="1.3" fill="none"/>
<rect x="59.9" y="377.9" width="5.4" height="5.4" fill="#d62728" stroke="none"/>
<path d="M68.2,402.6 L68.2,367" stroke="#d62728" stroke-width="1.3" fill="none"/>
<ellipse cx="68.2" cy="384.6" rx="2.8" ry="2.8" fill="#d62728" stroke="none"/>
<path d="M73.9,403.6 L73.9,370.4" stroke="#d62728" stroke-width="1.3" fill="none"/>
<path d="M73.9,385.1 L76.9,390.1 L70.9,390.1Z" fill="#d62728" stroke="none"/>
<path d="M87.55,391 L87.55,331" stroke="#ff7f0e" stroke-width="2.5" fill="none"/>
<path d="M87.55,356.2 L92.75,361 L87.55,365.8 L82.35,361Z" fill="#ff7f0e" stroke="none"/>
<path d="M95.85,381 L95.85,332" stroke="#ff7f0e" stroke-width="1.3" fill="none"/>
<rect x="93.15" y="353.7" width="5.4" height="5.4" fill="#ff7f0e" stroke="none"/>
<path d="M101.45,394.6 L101.45,335.6" stroke="#ff7f0e" stroke-width="1.3" fill="none"/>
<ellipse cx="101.45" cy="365" rx="2.8" ry="2.8" fill="#ff7f0e" stroke="none"/>
<path d="M107.15,438 L107.15,382" stroke="#ff7f0e" stroke-width="1.3" fill="none"/>
<path d="M107.15,407.9 L110.15,412.9 L104.15,412.9Z" fill="#ff7f0e" stroke="none"/>
<path d="M120.7,403.6 L120.7,351.4" stroke="#1f77b4" stroke-width="2.5" fill="none"/>
<path d="M120.7,372.8 L125.9,377.6 L120.7,382.4 L115.5,377.6Z" fill="#1f77b4" stroke="none"/>
<path d="M129,396.6 L129,354" stroke="#1f77b4" stroke-width="1.3" fill="none"/>
<rect x="126.3" y="372.7" width="5.4" height="5.4" fill="#1f77b4" stroke="none"/>
<path d="M134.6,398.6 L134.6,347" stroke="#1f77b4" stroke-width="1.3" fill="none"/>
<ellipse cx="134.6" cy="373" rx="2.8" ry="2.8" fill="#1f77b4" stroke="none"/>
<path d="M140.3,434 L140.3,384.4" stroke="#1f77b4" stroke-width="1.3" fill="none"/>
<path d="M140.3,407.5 L143.3,412.5 L137.3,412.5Z" fill="#1f77b4" stroke="none"/>
<path d="M153.7,414 L153.7,364.6" stroke="#2ca02c" stroke-width="2.5" fill="none"/>
<path d="M153.7,384.7 L158.9,389.5 L153.7,394.3 L148.5,389.5Z" fill="#2ca02c" stroke="none"/>
<path d="M162,419.4 L162,379.6" stroke="#2ca02c" stroke-width="1.3" fill="none"/>
<rect x="159.3" y="396.7" width="5.4" height="5.4" fill="#2ca02c" stroke="none"/>
<path d="M167.6,417 L167.6,368" stroke="#2ca02c" stroke-width="1.3" fill="none"/>
<ellipse cx="167.6" cy="392.5" rx="2.8" ry="2.8" fill="#2ca02c" stroke="none"/>
<path d="M173.3,406.8 L173.3,360.4" stroke="#2ca02c" stroke-width="1.3" fill="none"/>
<path d="M173.3,381.9 L176.3,386.9 L170.3,386.9Z" fill="#2ca02c" stroke="none"/>
<path d="M189.6,398.6 L189.6,362.4" stroke="#d62728" stroke-width="2.5" fill="none" stroke-dasharray="10.7 4.2"/>
<path d="M189.6,375.8 L194.8,380.6 L189.6,385.4 L184.4,380.6Z" fill="none" stroke="#d62728" stroke-width="0.75"/>
<path d="M197.9,400.6 L197.9,368" stroke="#d62728" stroke-width="1.3" fill="none" stroke-dasharray="4.4 1.75"/>
<rect x="195.5" y="382.6" width="4.8" height="4.8" fill="none" stroke="#d62728" stroke-width="0.75"/>
<path d="M203.5,397.6 L203.5,367.6" stroke="#d62728" stroke-width="1.3" fill="none" stroke-dasharray="4.4 1.75"/>
<ellipse cx="203.5" cy="382" rx="2.5" ry="2.5" fill="none" stroke="#d62728" stroke-width="0.75"/>
<path d="M209.2,416.4 L209.2,381" stroke="#d62728" stroke-width="1.3" fill="none" stroke-dasharray="4.4 1.75"/>
<path d="M209.2,397.4 L211.9,401.8 L206.5,401.8Z" fill="none" stroke="#d62728" stroke-width="0.75"/>
<path d="M222.5,420 L222.5,359" stroke="#ff7f0e" stroke-width="2.5" fill="none" stroke-dasharray="10.7 4.2"/>
<path d="M222.5,384.8 L227.7,389.6 L222.5,394.4 L217.3,389.6Z" fill="none" stroke="#ff7f0e" stroke-width="0.75"/>
<path d="M230.8,415.6 L230.8,360" stroke="#ff7f0e" stroke-width="1.3" fill="none" stroke-dasharray="4.4 1.75"/>
<rect x="228.4" y="385.2" width="4.8" height="4.8" fill="none" stroke="#ff7f0e" stroke-width="0.75"/>
<path d="M236.4,419.6 L236.4,370" stroke="#ff7f0e" stroke-width="1.3" fill="none" stroke-dasharray="4.4 1.75"/>
<ellipse cx="236.4" cy="394" rx="2.5" ry="2.5" fill="none" stroke="#ff7f0e" stroke-width="0.75"/>
<path d="M242.1,428.6 L242.1,369" stroke="#ff7f0e" stroke-width="1.3" fill="none" stroke-dasharray="4.4 1.75"/>
<path d="M242.1,397.8 L244.8,402.2 L239.4,402.2Z" fill="none" stroke="#ff7f0e" stroke-width="0.75"/>
<path d="M255.5,422.4 L255.5,368" stroke="#1f77b4" stroke-width="2.5" fill="none" stroke-dasharray="10.7 4.2"/>
<path d="M255.5,390.2 L260.7,395 L255.5,399.8 L250.3,395Z" fill="none" stroke="#1f77b4" stroke-width="0.75"/>
<path d="M263.8,422 L263.8,373" stroke="#1f77b4" stroke-width="1.3" fill="none" stroke-dasharray="4.4 1.75"/>
<rect x="261.4" y="395.6" width="4.8" height="4.8" fill="none" stroke="#1f77b4" stroke-width="0.75"/>
<path d="M269.4,409 L269.4,364" stroke="#1f77b4" stroke-width="1.3" fill="none" stroke-dasharray="4.4 1.75"/>
<ellipse cx="269.4" cy="386.6" rx="2.5" ry="2.5" fill="none" stroke="#1f77b4" stroke-width="0.75"/>
<path d="M275.1,430.6 L275.1,378" stroke="#1f77b4" stroke-width="1.3" fill="none" stroke-dasharray="4.4 1.75"/>
<path d="M275.1,403.4 L277.8,407.8 L272.4,407.8Z" fill="none" stroke="#1f77b4" stroke-width="0.75"/>
<path d="M288.5,409 L288.5,358.4" stroke="#2ca02c" stroke-width="2.5" fill="none" stroke-dasharray="10.7 4.2"/>
<path d="M288.5,378.6 L293.7,383.4 L288.5,388.2 L283.3,383.4Z" fill="none" stroke="#2ca02c" stroke-width="0.75"/>
<path d="M296.8,416 L296.8,370" stroke="#2ca02c" stroke-width="1.3" fill="none" stroke-dasharray="4.4 1.75"/>
<rect x="294.4" y="390.6" width="4.8" height="4.8" fill="none" stroke="#2ca02c" stroke-width="0.75"/>
<path d="M302.4,393 L302.4,349" stroke="#2ca02c" stroke-width="1.3" fill="none" stroke-dasharray="4.4 1.75"/>
<ellipse cx="302.4" cy="371" rx="2.5" ry="2.5" fill="none" stroke="#2ca02c" stroke-width="0.75"/>
<path d="M308.1,428.6 L308.1,380" stroke="#2ca02c" stroke-width="1.3" fill="none" stroke-dasharray="4.4 1.75"/>
<path d="M308.1,403.8 L310.8,408.2 L305.4,408.2Z" fill="none" stroke="#2ca02c" stroke-width="0.75"/>
<text x="53.75" y="358.58" font-size="19" text-anchor="middle" fill="#d62728" stroke="#d62728" stroke-width="0.45" stroke-linejoin="round">*</text>
<text x="87" y="332.53" font-size="16.4" text-anchor="middle" fill="#ff7f0e" stroke="#ff7f0e" stroke-width="0.45" stroke-linejoin="round">*</text>
<text x="95.5" y="331.47" font-size="8.6" text-anchor="middle" fill="#ff7f0e" stroke="#ff7f0e" stroke-width="0.24" stroke-linejoin="round">**</text>
<text x="100.9" y="335.58" font-size="9.2" text-anchor="middle" fill="#ff7f0e" stroke="#ff7f0e" stroke-width="0.26" stroke-linejoin="round">*</text>
<text x="302.35" y="351.04" font-size="12" text-anchor="middle" fill="#2ca02c" stroke="#2ca02c" stroke-width="0.34" stroke-linejoin="round">*</text>
<rect x="48.4" y="308.4" width="130.3" height="177.9" fill="none" stroke="#606060" stroke-width="1.1"/>
<rect x="183.6" y="308.4" width="129.9" height="177.9" fill="none" stroke="#606060" stroke-width="1.1"/>
<line x1="120.4" y1="451.5" x2="133.6" y2="451.5" stroke="#333333" stroke-width="1" />
<path d="M127,446.46 L132.46,451.5 L127,456.54 L121.54,451.5Z" fill="#333333" stroke="none"/>
<text transform="translate(138.4,454.35) scale(1,1.04)" font-size="6.3" text-anchor="start" fill="#383838" stroke="#383838" stroke-width="0.18">Average</text>
<line x1="120.4" y1="460.7" x2="133.6" y2="460.7" stroke="#333333" stroke-width="1" />
<rect x="124.17" y="457.87" width="5.67" height="5.67" fill="#333333" stroke="none"/>
<text transform="translate(138.4,463.55) scale(1,1.04)" font-size="6.3" text-anchor="start" fill="#383838" stroke="#383838" stroke-width="0.18">Seed: friend</text>
<line x1="120.4" y1="470.1" x2="133.6" y2="470.1" stroke="#333333" stroke-width="1" />
<ellipse cx="127" cy="470.1" rx="2.94" ry="2.94" fill="#333333" stroke="none"/>
<text transform="translate(138.4,472.95) scale(1,1.04)" font-size="6.3" text-anchor="start" fill="#383838" stroke="#383838" stroke-width="0.18">Seed: money</text>
<line x1="120.4" y1="479" x2="133.6" y2="479" stroke="#333333" stroke-width="1" />
<path d="M127,476.38 L130.15,481.62 L123.85,481.62Z" fill="#333333" stroke="none"/>
<text transform="translate(138.4,481.85) scale(1,1.04)" font-size="6.3" text-anchor="start" fill="#383838" stroke="#383838" stroke-width="0.18">Seed: key</text>
<line x1="253.5" y1="451.5" x2="266.7" y2="451.5" stroke="#333333" stroke-width="1" stroke-dasharray="2.6 1.4" />
<path d="M260.1,446.12 L265.92,451.5 L260.1,456.88 L254.28,451.5Z" fill="none" stroke="#333333" stroke-width="0.75"/>
<text transform="translate(272.2,454.35) scale(1,1.04)" font-size="6.3" text-anchor="start" fill="#383838" stroke="#383838" stroke-width="0.18">Average</text>
<line x1="253.5" y1="460.7" x2="266.7" y2="460.7" stroke="#333333" stroke-width="1" stroke-dasharray="2.6 1.4" />
<rect x="257.56" y="458.16" width="5.07" height="5.07" fill="none" stroke="#333333" stroke-width="0.75"/>
<text transform="translate(272.2,463.55) scale(1,1.04)" font-size="6.3" text-anchor="start" fill="#383838" stroke="#383838" stroke-width="0.18">Seed: friend</text>
<line x1="253.5" y1="470.1" x2="266.7" y2="470.1" stroke="#333333" stroke-width="1" stroke-dasharray="2.6 1.4" />
<ellipse cx="260.1" cy="470.1" rx="2.64" ry="2.64" fill="none" stroke="#333333" stroke-width="0.75"/>
<text transform="translate(272.2,472.95) scale(1,1.04)" font-size="6.3" text-anchor="start" fill="#383838" stroke="#383838" stroke-width="0.18">Seed: money</text>
<line x1="253.5" y1="479" x2="266.7" y2="479" stroke="#333333" stroke-width="1" stroke-dasharray="2.6 1.4" />
<path d="M260.1,476.68 L262.95,481.32 L257.25,481.32Z" fill="none" stroke="#333333" stroke-width="0.75"/>
<text transform="translate(272.2,481.85) scale(1,1.04)" font-size="6.3" text-anchor="start" fill="#383838" stroke="#383838" stroke-width="0.18">Seed: key</text>
<rect x="368" y="280.5" width="317.5" height="272" rx="43" ry="43" fill="#fff6df"/>
<rect x="384.2" y="313.8" width="285.8" height="216" fill="#ffffff"/>
<text transform="translate(531.4,302.5) scale(1,1.04)" font-size="14.35" text-anchor="middle" fill="#383838" >– Independent sample –</text>
<text transform="translate(483.8,336.6) scale(1,1.04)" font-size="12.8" text-anchor="middle" fill="#383838" >Friend</text>
<text transform="translate(603.45,336.6) scale(1,1.04)" font-size="13" text-anchor="middle" fill="#383838" >Money</text>
<text x="0" y="0" font-size="10.8" text-anchor="middle" fill="#383838" transform="translate(397.2,423.4) rotate(-90)">Standardized Beta</text>
<text transform="translate(420.2,362.46) scale(1,1.04)" font-size="10.6" text-anchor="end" fill="#383838" >0.4</text>
<line x1="421" y1="358.76" x2="423" y2="358.76" stroke="#606060" stroke-width="0.8" />
<text transform="translate(420.2,394.78) scale(1,1.04)" font-size="10.6" text-anchor="end" fill="#383838" >0.2</text>
<line x1="421" y1="391.08" x2="423" y2="391.08" stroke="#606060" stroke-width="0.8" />
<text transform="translate(420.2,427.1) scale(1,1.04)" font-size="10.6" text-anchor="end" fill="#383838" >0.0</text>
<line x1="421" y1="423.4" x2="423" y2="423.4" stroke="#606060" stroke-width="0.8" />
<text transform="translate(420.2,459.42) scale(1,1.04)" font-size="10.6" text-anchor="end" fill="#383838" >−0.2</text>
<line x1="421" y1="455.72" x2="423" y2="455.72" stroke="#606060" stroke-width="0.8" />
<text transform="translate(420.2,491.74) scale(1,1.04)" font-size="10.6" text-anchor="end" fill="#383838" >−0.4</text>
<line x1="421" y1="488.04" x2="423" y2="488.04" stroke="#606060" stroke-width="0.8" />
<line x1="423" y1="423.4" x2="541" y2="423.4" stroke="#999999" stroke-width="1" stroke-dasharray="3.0 1.25" />
<line x1="450" y1="342.4" x2="450" y2="504" stroke="#aaaaaa" stroke-width="0.9" stroke-dasharray="3.1 1.25" />
<text transform="translate(434.5,514.6) scale(1,1.04)" font-size="10.5" text-anchor="middle" fill="#383838" >SWB</text>
<text transform="translate(465.1,514.6) scale(1,1.04)" font-size="10.5" text-anchor="middle" fill="#383838" >PA</text>
<text transform="translate(495.9,514.6) scale(1,1.04)" font-size="10.5" text-anchor="middle" fill="#383838" >NA</text>
<text transform="translate(526.6,514.6) scale(1,1.04)" font-size="10.5" text-anchor="middle" fill="#383838" >LS</text>
<line x1="544.3" y1="423.4" x2="662.6" y2="423.4" stroke="#999999" stroke-width="1" stroke-dasharray="3.0 1.25" />
<line x1="571.6" y1="342.4" x2="571.6" y2="504" stroke="#aaaaaa" stroke-width="0.9" stroke-dasharray="3.1 1.25" />
<text transform="translate(555.9,514.6) scale(1,1.04)" font-size="10.5" text-anchor="middle" fill="#383838" >SWB</text>
<text transform="translate(586.9,514.6) scale(1,1.04)" font-size="10.5" text-anchor="middle" fill="#383838" >PA</text>
<text transform="translate(617.5,514.6) scale(1,1.04)" font-size="10.5" text-anchor="middle" fill="#383838" >NA</text>
<text transform="translate(647.9,514.6) scale(1,1.04)" font-size="10.5" text-anchor="middle" fill="#383838" >LS</text>
<path d="M428.6,416 L428.6,379" stroke="#d62728" stroke-width="2.7" fill="none"/>
<path d="M423.6,392.35 L433.6,392.35 L428.6,400.25Z" fill="#d62728" stroke="none"/>
<path d="M436,470 L436,432.4" stroke="#d62728" stroke-width="2.7" fill="none"/>
<path d="M430.9,446.8 L441.1,451.6 L430.9,456.4Z" fill="#d62728" stroke="none"/>
<path d="M443.6,419.3 L443.6,401.2" stroke="#d62728" stroke-width="2.7" fill="none"/>
<path d="M443.6,405.4 L447.7,410.2 L443.6,415 L439.5,410.2Z" fill="#d62728" stroke="none"/>
<path d="M459.2,421.4 L459.2,383" stroke="#ff7f0e" stroke-width="2.7" fill="none"/>
<path d="M454.2,396.65 L464.2,396.65 L459.2,404.55Z" fill="#ff7f0e" stroke="none"/>
<path d="M466.6,462.4 L466.6,423.6" stroke="#ff7f0e" stroke-width="2.7" fill="none"/>
<path d="M461.5,438.8 L471.7,443.6 L461.5,448.4Z" fill="#ff7f0e" stroke="none"/>
<path d="M474.2,420.9 L474.2,402.2" stroke="#ff7f0e" stroke-width="2.7" fill="none"/>
<path d="M474.2,406.5 L478.3,411.3 L474.2,416.1 L470.1,411.3Z" fill="#ff7f0e" stroke="none"/>
<path d="M490,455 L490,419" stroke="#1f77b4" stroke-width="2.7" fill="none"/>
<path d="M485,431.05 L495,431.05 L490,438.95Z" fill="#1f77b4" stroke="none"/>
<path d="M497.4,425.6 L497.4,389" stroke="#1f77b4" stroke-width="2.7" fill="none"/>
<path d="M492.3,402.8 L502.5,407.6 L492.3,412.4Z" fill="#1f77b4" stroke="none"/>
<path d="M505,434.4 L505,417" stroke="#1f77b4" stroke-width="2.7" fill="none"/>
<path d="M505,421.2 L509.1,426 L505,430.8 L500.9,426Z" fill="#1f77b4" stroke="none"/>
<path d="M520.7,439.6 L520.7,397" stroke="#2ca02c" stroke-width="2.7" fill="none"/>
<path d="M515.7,413.65 L525.7,413.65 L520.7,421.55Z" fill="#2ca02c" stroke="none"/>
<path d="M528.1,451.6 L528.1,409" stroke="#2ca02c" stroke-width="2.7" fill="none"/>
<path d="M523,425.2 L533.2,430 L523,434.8Z" fill="#2ca02c" stroke="none"/>
<path d="M535.7,428 L535.7,408" stroke="#2ca02c" stroke-width="2.7" fill="none"/>
<path d="M535.7,414.2 L539.8,419 L535.7,423.8 L531.6,419Z" fill="#2ca02c" stroke="none"/>
<path d="M550,443.6 L550,405" stroke="#d62728" stroke-width="2.7" fill="none" stroke-dasharray="10.7 4.2"/>
<g>
<path d="M545,417.85 L555,417.85 L550,425.75Z" fill="none" stroke="#d62728" stroke-width="0.8"/>
</g>
<path d="M557.4,442.6 L557.4,403" stroke="#d62728" stroke-width="2.7" fill="none" stroke-dasharray="10.7 4.2"/>
<g>
<path d="M552.3,417.4 L562.5,422.2 L552.3,427Z" fill="none" stroke="#d62728" stroke-width="0.8"/>
</g>
<path d="M565,429.6 L565,403.6" stroke="#d62728" stroke-width="2.7" fill="none" stroke-dasharray="10.7 4.2"/>
<g>
<path d="M565,411.4 L569.1,416.2 L565,421 L560.9,416.2Z" fill="none" stroke="#d62728" stroke-width="0.8"/>
</g>
<path d="M581,444 L581,403.6" stroke="#ff7f0e" stroke-width="2.7" fill="none" stroke-dasharray="10.7 4.2"/>
<g>
<path d="M576,418.55 L586,418.55 L581,426.45Z" fill="none" stroke="#ff7f0e" stroke-width="0.8"/>
</g>
<path d="M588.4,442.6 L588.4,401.4" stroke="#ff7f0e" stroke-width="2.7" fill="none" stroke-dasharray="10.7 4.2"/>
<g>
<path d="M583.3,416.7 L593.5,421.5 L583.3,426.3Z" fill="none" stroke="#ff7f0e" stroke-width="0.8"/>
</g>
<path d="M596,435.6 L596,409" stroke="#ff7f0e" stroke-width="2.7" fill="none" stroke-dasharray="10.7 4.2"/>
<g>
<path d="M596,417.45 L600.1,422.25 L596,427.05 L591.9,422.25Z" fill="none" stroke="#ff7f0e" stroke-width="0.8"/>
</g>
<path d="M611.6,432.8 L611.6,395" stroke="#1f77b4" stroke-width="2.7" fill="none" stroke-dasharray="10.7 4.2"/>
<g>
<path d="M606.6,409.55 L616.6,409.55 L611.6,417.45Z" fill="none" stroke="#1f77b4" stroke-width="0.8"/>
</g>
<path d="M619,453.4 L619,415" stroke="#1f77b4" stroke-width="2.7" fill="none" stroke-dasharray="10.7 4.2"/>
<g>
<path d="M613.9,429.1 L624.1,433.9 L613.9,438.7Z" fill="none" stroke="#1f77b4" stroke-width="0.8"/>
</g>
<path d="M626.6,434 L626.6,407.6" stroke="#1f77b4" stroke-width="2.7" fill="none" stroke-dasharray="10.7 4.2"/>
<g>
<path d="M626.6,415.85 L630.7,420.65 L626.6,425.45 L622.5,420.65Z" fill="none" stroke="#1f77b4" stroke-width="0.8"/>
</g>
<path d="M642,438.7 L642,397.2" stroke="#2ca02c" stroke-width="2.7" fill="none" stroke-dasharray="10.7 4.2"/>
<g>
<path d="M637,412.95 L647,412.95 L642,420.85Z" fill="none" stroke="#2ca02c" stroke-width="0.8"/>
</g>
<path d="M649.4,454.4 L649.4,413" stroke="#2ca02c" stroke-width="2.7" fill="none" stroke-dasharray="10.7 4.2"/>
<g>
<path d="M644.3,427.2 L654.5,432 L644.3,436.8Z" fill="none" stroke="#2ca02c" stroke-width="0.8"/>
</g>
<path d="M657,429.6 L657,403.1" stroke="#2ca02c" stroke-width="2.7" fill="none" stroke-dasharray="10.7 4.2"/>
<g>
<path d="M657,409.1 L661.1,413.9 L657,418.7 L652.9,413.9Z" fill="none" stroke="#2ca02c" stroke-width="0.8"/>
</g>
<text x="429.15" y="378.3" font-size="15" text-anchor="middle" fill="#d62728" stroke="#d62728" stroke-width="0.42" stroke-linejoin="round">**</text>
<text x="443.6" y="402.2" font-size="15" text-anchor="middle" fill="#d62728" stroke="#d62728" stroke-width="0.42" stroke-linejoin="round">**</text>
<text x="436.6" y="485.8" font-size="15" text-anchor="middle" fill="#d62728" stroke="#d62728" stroke-width="0.42" stroke-linejoin="round">**</text>
<text x="459" y="384.32" font-size="16" text-anchor="middle" fill="#ff7f0e" stroke="#ff7f0e" stroke-width="0.45" stroke-linejoin="round">*</text>
<text x="474.4" y="404.72" font-size="16" text-anchor="middle" fill="#ff7f0e" stroke="#ff7f0e" stroke-width="0.45" stroke-linejoin="round">*</text>
<text x="466.75" y="478.28" font-size="16.7" text-anchor="middle" fill="#ff7f0e" stroke="#ff7f0e" stroke-width="0.45" stroke-linejoin="round">*</text>
<rect x="423" y="342.4" width="118" height="161.6" fill="none" stroke="#606060" stroke-width="1.1"/>
<rect x="544.3" y="342.4" width="118.3" height="161.6" fill="none" stroke="#606060" stroke-width="1.1"/>
<line x1="474.9" y1="472.6" x2="488.1" y2="472.6" stroke="#333333" stroke-width="1" />
<path d="M477.95,469.45 L485.05,469.45 L481.5,475.75Z" fill="#333333" stroke="none"/>
<line x1="474.9" y1="485.2" x2="488.1" y2="485.2" stroke="#333333" stroke-width="1" />
<path d="M478,481.65 L485,485.2 L478,488.75Z" fill="#333333" stroke="none"/>
<line x1="474.9" y1="497.3" x2="488.1" y2="497.3" stroke="#333333" stroke-width="1" />
<path d="M481.5,493.2 L484.25,497.3 L481.5,501.4 L478.75,497.3Z" fill="#333333" stroke="none"/>
<text transform="translate(493,474.9) scale(1,1.04)" font-size="6.1" text-anchor="start" fill="#383838" stroke="#383838" stroke-width="0.18">Cosine similarity</text>
<text transform="translate(493,483.6) scale(1,1.04)" font-size="6.1" text-anchor="start" fill="#383838" stroke="#383838" stroke-width="0.18">Word mover’s</text>
<text transform="translate(493,490.7) scale(1,1.04)" font-size="6.1" text-anchor="start" fill="#383838" stroke="#383838" stroke-width="0.18">distance</text>
<text transform="translate(493,499.4) scale(1,1.04)" font-size="6.1" text-anchor="start" fill="#383838" stroke="#383838" stroke-width="0.18">Convergence</text>
<line x1="596.2" y1="472.6" x2="609.4" y2="472.6" stroke="#333333" stroke-width="1" stroke-dasharray="2.6 1.4" />
<path d="M599.6,469.65 L606,469.65 L602.8,475.55Z" fill="none" stroke="#333333" stroke-width="0.75"/>
<line x1="596.2" y1="485.2" x2="609.4" y2="485.2" stroke="#333333" stroke-width="1" stroke-dasharray="2.6 1.4" />
<path d="M599.85,482.25 L605.75,485.2 L599.85,488.15Z" fill="none" stroke="#333333" stroke-width="0.75"/>
<line x1="596.2" y1="497.3" x2="609.4" y2="497.3" stroke="#333333" stroke-width="1" stroke-dasharray="2.6 1.4" />
<path d="M602.8,493.3 L605.4,497.3 L602.8,501.3 L600.2,497.3Z" fill="none" stroke="#333333" stroke-width="0.75"/>
<text transform="translate(614.3,474.9) scale(1,1.04)" font-size="6.1" text-anchor="start" fill="#383838" stroke="#383838" stroke-width="0.18">Cosine similarity</text>
<text transform="translate(614.3,483.6) scale(1,1.04)" font-size="6.1" text-anchor="start" fill="#383838" stroke="#383838" stroke-width="0.18">Word mover’s</text>
<text transform="translate(614.3,490.7) scale(1,1.04)" font-size="6.1" text-anchor="start" fill="#383838" stroke="#383838" stroke-width="0.18">distance</text>
<text transform="translate(614.3,499.4) scale(1,1.04)" font-size="6.1" text-anchor="start" fill="#383838" stroke="#383838" stroke-width="0.18">Convergence</text>
<rect x="19" y="510" width="308" height="46" fill="#f2f2f2"/>
<text transform="translate(37,529.8) scale(1,1.04)" font-size="10.75" text-anchor="start" fill="#383838" >Cosine similarity</text>
<path d="M120.9,523.3 L120.9,531.5" stroke="#9a9a9a" stroke-width="1.05" fill="none"/>
<path d="M119,526.1 L120.9,522.7 L122.8,526.1" stroke="#9a9a9a" stroke-width="0.95" fill="none"/>
<text transform="translate(123.2,529.8) scale(1,1.04)" font-size="10.75" text-anchor="start" fill="#383838" >,</text>
<text transform="translate(129.6,529.8) scale(1,1.04)" font-size="10.75" text-anchor="start" fill="#383838" >WMD</text>
<path d="M162.5,524.4 L162.5,530.9" stroke="#333333" stroke-width="1.05" fill="none"/>
<path d="M160.6,528.1 L162.5,531.5 L164.4,528.1" stroke="#333333" stroke-width="0.95" fill="none"/>
<text transform="translate(164.3,529.8) scale(1,1.04)" font-size="10.75" text-anchor="start" fill="#383838" >,</text>
<text transform="translate(174.6,529.8) scale(1,1.04)" font-size="10.75" text-anchor="start" fill="#383838" >Similar to 'Friend' or 'Money'</text>
<text transform="translate(52.5,546.4) scale(1,1.04)" font-size="10.75" text-anchor="start" fill="#383838" >Convergence</text>
<path d="M122,540.2 L122,548" stroke="#9a9a9a" stroke-width="1.05" fill="none"/>
<path d="M120.1,543 L122,539.6 L123.9,543" stroke="#9a9a9a" stroke-width="0.95" fill="none"/>
<text transform="translate(124.3,546.4) scale(1,1.04)" font-size="10.75" text-anchor="start" fill="#383838" >,</text>
<text transform="translate(133.3,546.4) scale(1,1.04)" font-size="10.75" text-anchor="start" fill="#383838" >Alignment with 'Friend' or 'Money'</text>
</svg>
</body></html>
